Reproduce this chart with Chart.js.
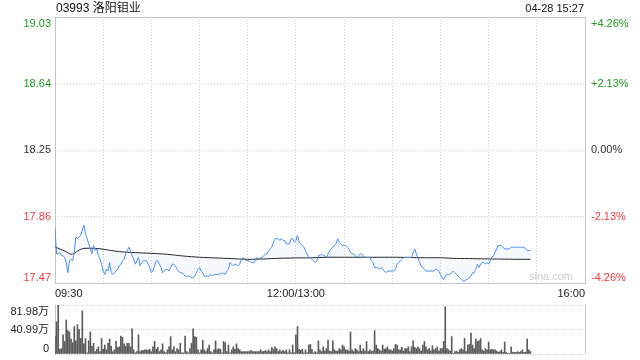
<!DOCTYPE html>
<html><head><meta charset="utf-8">
<script src="https://cdn.jsdelivr.net/npm/chart.js@4"></script>
<style>
html,body{margin:0;padding:0;background:#fff;width:640px;height:360px;overflow:hidden;}
#wrap{position:relative;width:640px;height:360px;}
#c1{position:absolute;left:0;top:0;}
#c2{position:absolute;left:0;top:300px;}
.t{position:absolute;font-family:"Liberation Sans",Arial,"Noto Sans CJK SC",sans-serif;color:#111;white-space:nowrap;line-height:1;}
</style></head><body>
<div id="wrap">
<canvas id="c1" width="640" height="300"></canvas>
<canvas id="c2" width="640" height="60"></canvas>
<div class="t" style="left:56px;top:2px;font-size:12px;">03993 洛阳钼业</div>
<div class="t" style="right:56px;top:3px;font-size:11px;">04-28 15:27</div>
</div>
<script>
// ---- data ----
const prevClose = 18.25;
const gridMinutes = [0,30,60,90,120,150,180,210,240,270,300,330];
const timeTickMinutes = [0,150,330];
const timeTickLabels = ['09:30','12:00/13:00','16:00'];
const priceTicks = [17.47,17.86,18.25,18.64,19.03];
const pctTickLabels = ['-4.26%','-2.13%','0.00%','+2.13%','+4.26%'];
const volTicks = [0,40.99,81.98];
const volTickLabels = ['0','40.99万','81.98万'];

const price = [
17.79,17.64,17.64,17.65,17.63,17.63,17.62,17.59,17.53,17.60,
17.61,17.60,17.65,17.74,17.73,17.74,17.75,17.78,17.81,17.76,
17.73,17.70,17.67,17.64,17.69,17.66,17.67,17.63,17.61,17.58,
17.54,17.52,17.55,17.54,17.59,17.53,17.52,17.53,17.54,17.55,
17.57,17.58,17.60,17.61,17.64,17.66,17.68,17.66,17.63,17.61,
17.58,17.60,17.62,17.57,17.59,17.60,17.60,17.60,17.58,17.56,
17.53,
17.54,17.57,17.60,17.60,17.58,17.56,17.53,17.54,17.55,17.55,
17.54,17.56,17.58,17.58,17.57,17.55,17.54,17.53,17.53,17.52,
17.51,17.51,17.51,17.51,17.50,17.50,17.51,17.53,17.55,17.56,
17.54,17.53,17.51,17.51,17.51,17.51,17.52,17.51,17.52,17.52,
17.52,17.52,17.53,17.52,17.53,17.52,17.54,17.55,17.59,17.58,
17.57,17.58,17.58,17.57,17.58,17.61,17.62,17.61,17.60,17.60,
17.60,17.59,17.59,17.59,17.61,17.62,17.61,17.62,17.62,17.63,
17.64,17.64,17.66,17.67,17.68,17.71,17.73,17.73,17.73,17.72,
17.73,17.72,17.72,17.70,17.70,17.70,17.73,17.73,17.71,17.72,
17.75,17.71,17.70,17.69,17.68,17.66,17.64,17.62,17.62,17.61,
17.60,17.59,17.60,17.63,17.63,17.64,17.63,17.63,17.62,17.64,
17.66,17.67,17.68,17.69,17.70,17.73,17.71,17.70,17.69,17.69,
17.69,17.68,
17.67,17.65,17.64,17.64,17.63,17.62,17.63,17.64,17.64,17.63,
17.62,17.62,17.62,17.62,17.60,17.59,17.56,17.56,17.56,17.55,
17.56,17.55,17.54,17.53,17.54,17.54,17.54,17.54,17.54,17.55,
17.58,17.59,17.60,17.61,17.62,17.62,17.62,17.62,17.62,17.62,
17.65,17.67,17.64,17.62,17.59,17.57,17.56,17.55,17.54,17.54,
17.54,17.54,17.54,17.54,17.55,17.55,17.54,17.52,17.50,17.49,
17.51,17.52,17.52,17.52,17.53,17.54,17.53,17.52,17.51,17.50,
17.49,17.48,17.48,17.49,17.49,17.50,17.51,17.53,17.53,17.55,
17.58,17.56,17.58,17.59,17.59,17.58,17.59,17.58,17.60,17.62,
17.63,17.65,17.67,17.69,17.69,17.69,17.68,17.67,17.67,17.67,
17.67,17.68,17.68,17.68,17.68,17.68,17.68,17.68,17.68,17.68,
17.67,17.66,17.66,17.66
];

const avgMinutes = [0,2,5,8,10,12,15,18,25,30,40,50,60,70,80,90,100,110,120,130,140,150,160,170,180,190,200,210,220,230,240,250,260,270,280,290,296];
const avgPrice = [17.683,17.673,17.662,17.648,17.638,17.644,17.663,17.673,17.673,17.668,17.654,17.648,17.644,17.638,17.628,17.621,17.617,17.613,17.609,17.611,17.615,17.617,17.618,17.621,17.621,17.621,17.621,17.621,17.620,17.618,17.618,17.614,17.613,17.611,17.610,17.609,17.609];

// volume in 万
const volume = [
30,54,82,8,9,32,21,57,39,37,
25,19,46,22,49,41,26,72,17,26,
2,22,37,13,18,4,8,12,4,26,
8,15,7,18,25,13,4,7,21,11,
12,30,28,17,13,18,18,12,42,7,
2,4,32,
4,6,6,7,7,6,8,4,12,21,
8,11,4,7,17,4,2,7,12,29,
7,12,4,9,7,18,2,2,30,4,
2,9,18,42,29,28,7,2,7,23,
7,4,9,15,4,2,7,22,7,9,
8,2,21,19,4,15,2,7,12,8,
17,9,7,4,4,4,4,4,4,6,
4,4,4,4,
4,7,4,4,6,4,7,4,11,8,
12,9,4,7,4,6,4,7,2,7,
2,15,2,32,46,8,6,8,2,7,
2,15,16,8,2,4,2,22,
7,4,12,5,9,23,5,4,22,7,5,5,9,7,15,12,7,7,5,37,7,4,9,7,4,15,5,9,5,21,4,7,5,5,39,15,9,7,5,15,8,9,12,7,7,5,9,16,15,7,7,11,5,9,9,12,4,12,22,11,9,12,9,5,15,21,12,7,9,5,14,7,9,12,5,9,9,21,
79,
9,7,5,29,1,4,5,3,7,9,7,26,4,15,16,35,15,9,25,21,22,26,7,5,9,7,20,7,8,7,7,5,3,4,7,3,20,3,1,1,12,3,3,3,4,3,4,7,3,3,25,7,4
];

// ---- styles ----
const UP = '#1f9a1f', DOWN = '#f03c3c', FLAT = '#333333';
const PRICE_C = '#4a8df0', AVG_C = '#222222', FILL = 'rgba(74,141,240,0.055)';
const GRID = '#cfcfcf', BORDER = '#c4c4c4';
const FONT = '"Liberation Sans", Arial, "Noto Sans CJK SC", sans-serif';

const priceLabelPlugin = {
  id: 'priceLabels',
  beforeDatasetsDraw(chart) {
    const {ctx, chartArea: a} = chart;
    ctx.save();
    ctx.setLineDash([]);
    ctx.strokeStyle = BORDER; ctx.lineWidth = 1;
    ctx.strokeRect(Math.round(a.left) + 0.5, Math.round(a.top) + 0.5, Math.round(a.right - a.left), Math.round(a.bottom - a.top));
    ctx.fillStyle = '#cccccc';
    ctx.font = '11px ' + FONT;
    ctx.textAlign = 'right'; ctx.textBaseline = 'bottom';
    ctx.fillText('sina.com', a.right - 12, a.bottom - 1);
    ctx.restore();
  },
  afterDraw(chart) {
    const {ctx, chartArea: a, scales: {y}} = chart;
    ctx.save();
    ctx.font = '11px ' + FONT;
    priceTicks.forEach((v, k) => {
      const py = y.getPixelForValue(v);
      let off = 0;
      ctx.textBaseline = 'middle';
      if (k === 0) { ctx.textBaseline = 'bottom'; off = 0; }
      else if (k === priceTicks.length - 1) { ctx.textBaseline = 'top'; off = 1; }
      ctx.fillStyle = v > prevClose + 1e-9 ? UP : (v < prevClose - 1e-9 ? DOWN : FLAT);
      ctx.textAlign = 'right';
      ctx.fillText(v.toFixed(2), a.left - 4, py + off);
      ctx.textAlign = 'left';
      ctx.fillText(pctTickLabels[k], a.right + 6, py + off);
    });
    ctx.restore();
  }
};

new Chart(document.getElementById('c1'), {
  type: 'line',
  data: {
    datasets: [
      {
        label: 'price',
        data: price.map((p, i) => ({x: i, y: p})),
        borderColor: PRICE_C, borderWidth: 1, pointRadius: 0, tension: 0,
        backgroundColor: FILL,
        fill: {target: 1, above: FILL, below: FILL}
      },
      {
        label: 'avg',
        data: avgMinutes.map((m, k) => ({x: m, y: avgPrice[k]})),
        borderColor: AVG_C, borderWidth: 1, pointRadius: 0, tension: 0.3, fill: false
      }
    ]
  },
  options: {
    responsive: false, animation: false, events: [],
    layout: {padding: {left: 55, right: 55, top: 17, bottom: 0}},
    plugins: {legend: {display: false}, tooltip: {enabled: false}},
    scales: {
      x: {
        type: 'linear', min: 0, max: 330,
        afterBuildTicks: s => { s.ticks = gridMinutes.map(v => ({value: v})); },
        afterFit: s => { s.height = 17; },
        grid: {color: GRID, drawTicks: false},
        border: {display: false, dash: [1, 2]},
        ticks: {
          autoSkip: false, maxRotation: 0, align: 'inner', padding: 4, color: '#222',
          font: {size: 11, family: FONT},
          callback: v => { const k = timeTickMinutes.indexOf(v); return k >= 0 ? timeTickLabels[k] : ''; }
        }
      },
      y: {
        min: priceTicks[0], max: priceTicks[priceTicks.length - 1],
        afterBuildTicks: s => { s.ticks = priceTicks.map(v => ({value: v})); },
        afterFit: s => { s.width = 0; },
        grid: {color: GRID, drawTicks: false},
        border: {display: false, dash: [1, 2]},
        ticks: {display: false}
      }
    }
  },
  plugins: [priceLabelPlugin]
});

const volPlugin = {
  id: 'volLabels',
  beforeDatasetsDraw(chart) {
    const {ctx, chartArea: a} = chart;
    ctx.save();
    ctx.setLineDash([]);
    ctx.strokeStyle = BORDER; ctx.lineWidth = 1;
    const l = Math.round(a.left) + 0.5, r = Math.round(a.right) + 0.5;
    ctx.beginPath();
    ctx.moveTo(l, a.top); ctx.lineTo(l, a.bottom);
    ctx.moveTo(r, a.top); ctx.lineTo(r, a.bottom);
    ctx.stroke();
    ctx.restore();
  },
  afterDraw(chart) {
    const {ctx, chartArea: a, scales: {y}} = chart;
    ctx.save();
    ctx.font = '11px ' + FONT;
    ctx.fillStyle = '#222';
    ctx.textAlign = 'right';
    volTicks.forEach((v, k) => {
      const py = y.getPixelForValue(v);
      let off = 0;
      ctx.textBaseline = 'middle';
      if (k === 0) { ctx.textBaseline = 'bottom'; off = 0; }
      else if (k === volTicks.length - 1) { ctx.textBaseline = 'top'; off = 1; }
      ctx.fillText(volTickLabels[k], a.left - 6, py + off);
    });
    ctx.restore();
  }
};

new Chart(document.getElementById('c2'), {
  type: 'bar',
  data: {
    datasets: [{
      label: 'volume',
      data: volume.map((v, i) => ({x: i, y: v})),
      backgroundColor: '#5a5a5a', barThickness: 1, borderWidth: 0
    }]
  },
  options: {
    responsive: false, animation: false, events: [],
    layout: {padding: {left: 55, right: 55, top: 5, bottom: 6}},
    plugins: {legend: {display: false}, tooltip: {enabled: false}},
    scales: {
      x: {type: 'linear', min: 0, max: 330, offset: false, display: false},
      y: {
        min: volTicks[0], max: volTicks[volTicks.length - 1],
        afterBuildTicks: s => { s.ticks = volTicks.map(v => ({value: v})); },
        afterFit: s => { s.width = 0; },
        grid: {color: GRID, drawTicks: false},
        border: {display: false, dash: [1, 1]},
        ticks: {display: false}
      }
    }
  },
  plugins: [volPlugin]
});
</script>
</body></html>
